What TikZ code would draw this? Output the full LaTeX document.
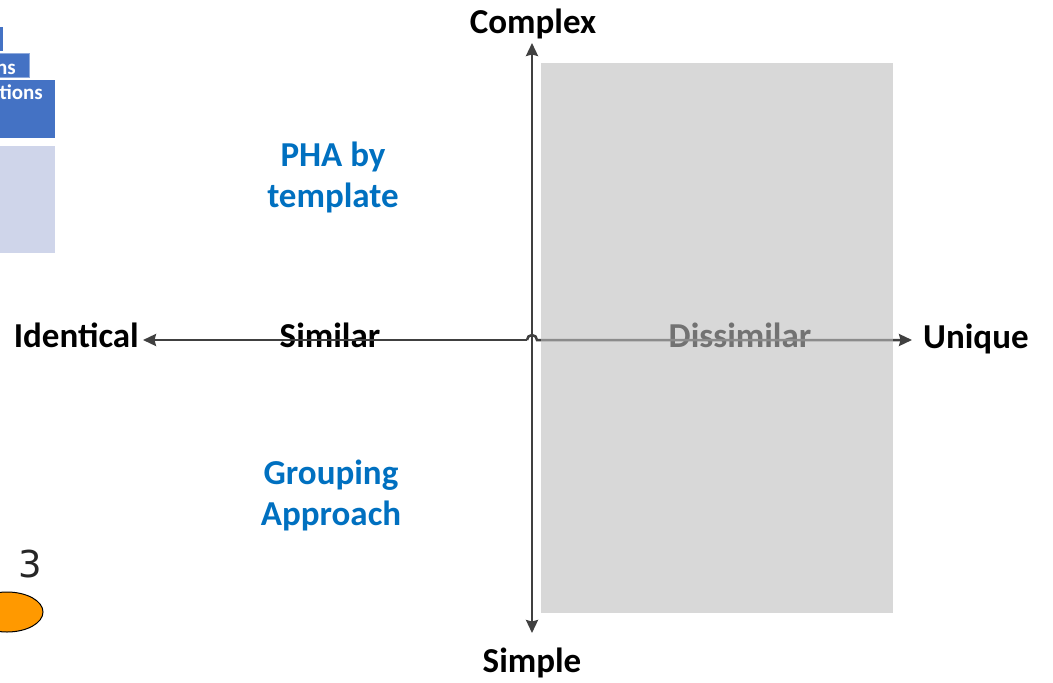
\documentclass[tikz,border=0pt]{standalone}
\usepackage{fontspec}
\setmainfont{Carlito}
\newfontfamily\numfont{DejaVu Sans}
\usetikzlibrary{arrows.meta,calc,shapes.geometric}
\definecolor{axisgray}{RGB}{64,64,64}
\definecolor{labelblue}{RGB}{0,112,192}
\definecolor{boxblue}{RGB}{68,114,196}
\definecolor{boxedge}{RGB}{143,170,220}
\definecolor{boxpale}{RGB}{207,213,234}
\definecolor{zonegray}{RGB}{190,190,190}
\definecolor{dotorange}{RGB}{255,153,0}
\tikzset{
  axislabel/.style={font=\fontsize{35}{41}\selectfont\bfseries, text=black, inner sep=2pt, anchor=base},
  quadlabel/.style={font=\fontsize{35}{41}\selectfont\bfseries, text=labelblue, align=center, inner sep=0pt},
  axisline/.style={draw=axisgray, line width=2.5pt, -{Stealth[length=13pt,width=12pt,inset=1.5pt]}},
  tabbox/.style={fill=boxblue, draw=boxedge, line width=0.8pt},
  tabtext/.style={font=\fontsize{21}{25}\selectfont\bfseries, text=white, inner sep=0pt, anchor=base east},
}
\begin{document}
\begin{tikzpicture}[x=1pt,y=-1pt]
\useasboundingbox (0,0) rectangle (1053,683);
\begin{scope}
\clip (0,0) rectangle (1053,683);
% stacked tabs on the left edge
\fill[boxblue] (-10,27) rectangle (3,51);
\draw[tabbox] (-10,53) rectangle (29,77);
\node[tabtext] (tabns) at (16,74) {ns};
\fill[boxblue] (-10,80) rectangle (55,138);
\node[tabtext] (tabations) at (43,99) {ations};
\fill[boxpale] (-10,146) rectangle (55,253);
% slide number and marker
\node[font=\numfont\fontsize{37}{40}\selectfont, text=black!85, anchor=base, inner sep=0pt] (pagenum) at (30,577) {3};
\node[draw=black, line width=1pt, fill=dotorange, ellipse, minimum width=72pt, minimum height=40pt, inner sep=0pt] (marker) at (7,612) {};
\end{scope}

% axis labels
\node[axislabel] (cplx) at (533,33) {Complex};
\node[axislabel] (simp) at (532,672) {Simple};
\node[axislabel, anchor=base east] (ident) at (141,347) {Identical};
\node[axislabel, anchor=base west] (uniq) at (921,348) {Unique};
\node[axislabel] (simil) at (330,347) {Similar};
\node[axislabel] (dissim) at (740,347) {Dissimilar};

% quadrant labels (base anchor sits on the last line)
\node[quadlabel, anchor=base] (pha) at (333,207) {PHA by\\template};
\node[quadlabel, anchor=base] (group) at (331,525) {Grouping\\Approach};

% axes
\coordinate (origin) at (532,340);
\coordinate (topend) at (532,43);
\coordinate (botend) at (532,633);
\coordinate (leftend) at (143,340);
\coordinate (rightend) at (912,340);
\draw[axisline] (origin) -- (topend);
\draw[axisline] (origin) -- (botend);
\draw[axisline] ($(origin)+(-5,0)$) -- (leftend);
\draw[axisline] ($(origin)+(-5,0)$) arc[start angle=180, end angle=0, x radius=5, y radius=-5] -- (rightend);

% shaded zone of dissimilar items
\fill[zonegray, opacity=0.6] (541,63) rectangle (893,613);
\end{tikzpicture}
\end{document}
